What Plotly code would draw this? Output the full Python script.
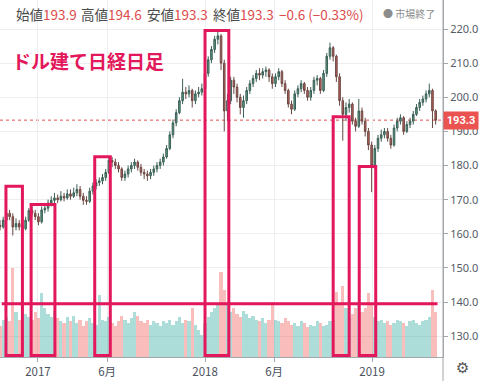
import datetime as dt
import plotly.graph_objects as go

# ---------------- data (weekly) ----------------
start_date = dt.date(2016, 10, 10)
first_open = 162.5
closes = [
    162, 164, 166, 165, 162, 163, 162, 161.5, 164, 166.8,
    166, 165, 163.5, 167, 167.5, 169, 169.8, 170.5, 170, 171,
    170.5, 171.7, 171, 172, 173, 171, 169.8, 169.5, 172.5, 174,
    175, 175.5, 176.5, 178, 181.5, 181, 180, 179, 176.5, 177.5,
    179, 180, 181, 179.5, 178, 177.5, 177, 178, 179, 180,
    181, 182.5, 185, 189, 192.5, 195.5, 199, 201.5, 201, 202,
    199, 201, 201.5, 202.5, 207, 211, 214, 217, 218, 210,
    196, 199, 205, 203, 200, 197, 199, 202, 204, 205.5,
    207, 206.5, 207.5, 208, 206, 204, 206, 207.5, 204, 202,
    198, 196.5, 201, 202.5, 204, 202, 200, 202, 205, 205.5,
    202, 207, 212, 214.5, 212, 206, 199, 195, 197, 198,
    193, 191.5, 196, 193, 190, 186, 180, 185, 188, 189,
    190, 188, 186, 191, 193, 194, 190, 192, 193, 195,
    197, 198.5, 199.5, 201, 202, 196, 193.3]
highs = [
    164, 165, 167, 167, 166, 164.5, 164, 163, 165, 167.5,
    168, 167, 166, 168, 169, 170, 171, 172, 171.5, 172.5,
    172, 173, 173, 173.5, 174.5, 174, 172, 171, 173.5, 175,
    176, 176.5, 177.5, 179, 182.5, 182.5, 182, 181, 179.5, 178.5,
    180, 181, 182, 181.5, 180.5, 179, 178.5, 179, 180, 181,
    182, 183.5, 186, 190, 193.5, 196.5, 200, 205.4, 203, 203.5,
    202.5, 202, 203, 204, 208, 212, 215, 218, 219.5, 218.5,
    211, 201, 206, 206, 204, 201, 200.5, 203, 205, 206.5,
    208, 208.5, 208.5, 209, 208.5, 207, 207, 208.5, 208, 205,
    202.5, 199, 202, 203.5, 205, 204.5, 203, 203, 206, 206.5,
    206, 208, 213, 216, 215, 212.5, 207, 200, 198.5, 199.5,
    198.5, 194, 199.5, 197, 194, 191, 187, 186, 189, 190.5,
    191, 191, 189, 192, 194, 195, 194.5, 193, 194, 196,
    198, 199.5, 200.5, 202, 204, 202.5, 196.5]
lows = [
    161, 161.5, 163.5, 164, 159.5, 161, 161, 160.5, 161, 163.5,
    165, 164, 162.5, 163, 166, 166.5, 168, 169, 169, 169.5,
    169.5, 170, 170, 170.5, 171, 170, 168.5, 168.5, 169, 171.5,
    173, 174, 174.5, 175.5, 177.5, 179.5, 179, 178, 175.5, 175.5,
    176.5, 178, 179, 178.5, 177, 176, 175.5, 176, 177, 178,
    179, 180, 182, 184.5, 188, 191.5, 195, 198, 199.5, 200,
    197, 198, 200, 200.5, 202, 206, 210, 213, 215.5, 208,
    190, 193, 198, 201, 198.5, 195, 194, 198, 201, 203,
    204.5, 205, 205.5, 206, 204.5, 202.5, 203, 205, 203, 201,
    197, 195, 196, 200, 201.5, 201, 199, 199, 201, 203.5,
    201, 201.5, 206, 211, 210.5, 204.5, 197.5, 187.3, 193, 195.5,
    192, 190, 191, 192, 188.5, 184.5, 172.2, 179, 184, 187,
    188, 187, 184.9, 185.5, 190, 192, 189, 189.5, 191, 192,
    194.5, 196, 197.5, 198.5, 200, 191, 192]
volumes = [
    35, 42, 45, 40, 100, 50, 42, 38, 48, 45,
    42, 50, 44, 72, 55, 48, 45, 52, 44, 40,
    38, 45, 40, 46, 38, 42, 35, 40, 44, 38,
    36, 70, 42, 40, 45, 38, 35, 40, 46, 42,
    38, 44, 50, 46, 40, 38, 42, 36, 40, 38,
    35, 40, 38, 42, 36, 40, 45, 38, 42, 40,
    55, 36, 30, 25, 38, 45, 50, 55, 60, 95,
    75, 60, 50, 55, 48, 45, 52, 48, 44, 46,
    42, 40, 44, 38, 42, 62, 42, 40, 38, 44,
    40, 36, 38, 35, 40, 38, 34, 36, 35, 40,
    38, 35, 36, 40, 42, 73, 60, 79, 55, 45,
    48, 55, 60, 50, 55, 72, 58, 45, 40, 42,
    38, 40, 36, 38, 42, 40, 38, 35, 40, 42,
    38, 36, 40, 42, 45, 75, 50]

tick_dates = ["2017-01-01", "2017-06-01", "2018-01-01", "2018-06-01", "2019-01-01"]
tick_text = ["2017", "6月", "2018", "6月", "2019"]
price_ticks = [130, 140, 150, 160, 170, 180, 190, 200, 210, 220]
last_price = 193.3
header = [("始値", "193.9"), ("高値", "194.6"), ("安値", "193.3"), ("終値", "193.3")]
change_text = "−0.6 (−0.33%)"
title_text = "ドル建て日経日足"
# highlight boxes: (start, end, top price)
boxes = [("2016-10-23", "2016-11-28", 173.9),
         ("2016-12-17", "2017-02-07", 168.6),
         ("2017-05-05", "2017-06-08", 182.6),
         ("2018-01-01", "2018-02-22", 219.6),
         ("2018-10-08", "2018-11-12", 194.3),
         ("2018-12-04", "2019-01-09", 179.7)]
hline = ("2016-10-14", "2019-05-24", 139.5)

# ---------------- build ----------------
dates = [start_date + dt.timedelta(days=7 * i) for i in range(len(closes))]
opens = [first_open] + closes[:-1]
vol_colors = ["rgba(38,166,154,0.38)" if c >= o else "rgba(239,83,80,0.38)"
              for o, c in zip(opens, closes)]

Y_MIN, Y_MAX = 123.9, 228.5
X_MIN, X_MAX = "2016-10-10", "2019-06-05"
PINK = "#e3175b"
AXIS = "#a3a6ab"
GRID = "#eceef1"
FONT = "Noto Sans CJK JP"

fig = go.Figure()
fig.add_trace(go.Bar(x=dates, y=volumes, marker_color=vol_colors,
                     marker_line_width=0, width=7 * 86400000, yaxis="y2",
                     hoverinfo="skip"))
fig.add_trace(go.Candlestick(
    x=dates, open=opens, high=highs, low=lows, close=closes,
    increasing=dict(line=dict(color="#3b5f55", width=1), fillcolor="#5a9c86"),
    decreasing=dict(line=dict(color="#6b4843", width=1), fillcolor="#c0605a"),
    whiskerwidth=0))

shapes = []
for s, e, top in boxes:
    shapes.append(dict(type="rect", xref="x", yref="y", x0=s, x1=e,
                       y0=Y_MIN + 0.45, y1=top,
                       line=dict(color=PINK, width=3), fillcolor="rgba(0,0,0,0)"))
shapes.append(dict(type="line", xref="x", yref="y", x0=hline[0], x1=hline[1],
                   y0=hline[2], y1=hline[2], line=dict(color=PINK, width=3)))
shapes.append(dict(type="line", xref="paper", yref="y", x0=0, x1=1,
                   y0=last_price, y1=last_price,
                   line=dict(color="#e0504c", width=1, dash="dot"), layer="below"))
shapes.append(dict(type="line", xref="paper", yref="paper", x0=1, x1=1,
                   y0=-24 / 357, y1=1, line=dict(color=AXIS, width=1)))

PW, PH = 443.0, 357.0
annotations = []
xs = [14, 79, 145, 211]
for (lab, val), x in zip(header, xs):
    annotations.append(dict(
        xref="paper", yref="paper", x=x / PW, y=1 - 14 / PH, xanchor="left",
        yanchor="middle", showarrow=False,
        text=f'{lab}<span style="color:#dd4b4b">{val}</span>',
        font=dict(family=FONT, size=13.5, color="#4a4a4a")))
annotations.append(dict(
    xref="paper", yref="paper", x=277 / PW, y=1 - 14 / PH, xanchor="left",
    yanchor="middle", showarrow=False, text=change_text,
    font=dict(family=FONT, size=13.5, color="#dd4b4b")))
annotations.append(dict(
    xref="paper", yref="paper", x=437 / PW, y=1 - 14 / PH, xanchor="right",
    yanchor="middle", showarrow=False, text="● 市場終了",
    font=dict(family=FONT, size=10, color="#8c8c8c")))
annotations.append(dict(
    xref="paper", yref="paper", x=10 / PW, y=1 - 60 / PH, xanchor="left",
    yanchor="middle", showarrow=False, text=f"<b>{title_text}</b>",
    font=dict(family=FONT, size=19, color=PINK)))
annotations.append(dict(
    xref="paper", yref="y", x=1.0, y=last_price, xanchor="left",
    yanchor="middle", showarrow=False, text=f"<b>{last_price:.1f}</b>",
    bgcolor="#ea5350", borderpad=2, width=30,
    font=dict(family="Roboto", size=11, color="white")))
annotations.append(dict(
    xref="paper", yref="paper", x=462 / PW, y=-11 / PH, xanchor="center",
    yanchor="middle", showarrow=False, text="⚙",
    font=dict(family="DejaVu Sans", size=15, color="#555555")))

fig.update_layout(
    width=480, height=381,
    margin=dict(l=0, r=37, t=0, b=24),
    paper_bgcolor="white", plot_bgcolor="white",
    showlegend=False, bargap=0,
    font=dict(family=FONT, color="#4c525e"),
    shapes=shapes, annotations=annotations,
    xaxis=dict(type="date", range=[X_MIN, X_MAX], tickvals=tick_dates,
               ticktext=tick_text, showgrid=True, gridcolor=GRID,
               showline=True, linecolor=AXIS, ticks="outside", ticklen=4,
               tickcolor=AXIS, tickfont=dict(size=11.5, color="#4c525e"),
               rangeslider=dict(visible=False), zeroline=False),
    yaxis=dict(side="right", range=[Y_MIN, Y_MAX], tickvals=price_ticks,
               ticktext=[f"{v:.1f}" for v in price_ticks], showgrid=True,
               gridcolor=GRID, showline=True, linecolor=AXIS, ticks="outside",
               ticklen=4, tickcolor=AXIS, zeroline=False,
               tickfont=dict(family="Noto Sans", size=11, color="#555b66")),
    yaxis2=dict(overlaying="y", range=[0, 400], visible=False, fixedrange=True),
)

fig.write_html("out.html", config=dict(displayModeBar=False),
               post_script="document.body.style.margin='0';")
